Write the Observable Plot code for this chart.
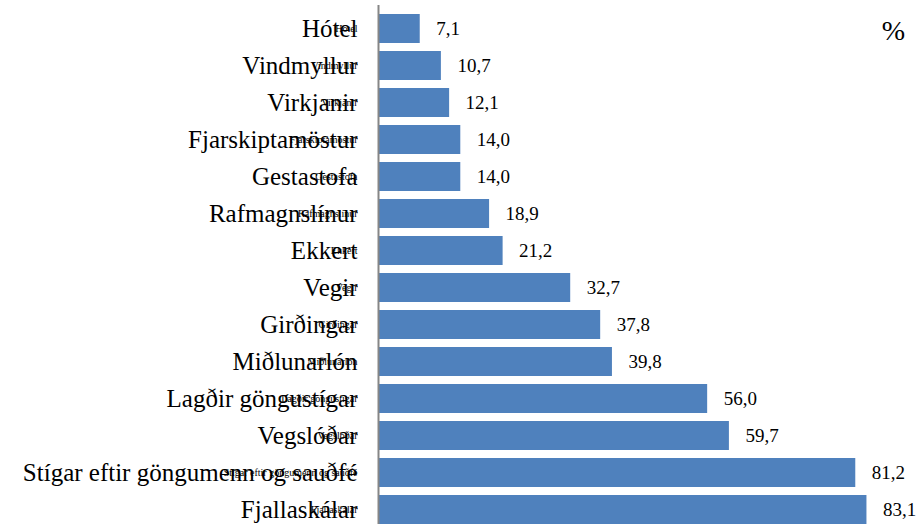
<!DOCTYPE html>
<html>
<head>
<meta charset="utf-8">
<script src="https://cdn.jsdelivr.net/npm/d3@7"></script>
<script src="https://cdn.jsdelivr.net/npm/@observablehq/plot@0.6"></script>
<style>
  html, body { margin: 0; padding: 0; background: #fff; overflow: hidden; }
  #unit { position: absolute; left: 0; top: 0; }
</style>
</head>
<body>
<svg id="unit" width="916" height="60"><text x="905" y="40" text-anchor="end" font-family="Liberation Serif" font-size="28" fill="#000">%</text></svg>
<div id="chart"></div>
<script>
const categories = ["Hótel", "Vindmyllur", "Virkjanir", "Fjarskiptamöstur", "Gestastofa", "Rafmagnslínur", "Ekkert", "Vegir", "Girðingar", "Miðlunarlón", "Lagðir göngustígar", "Vegslóðar", "Stígar eftir göngumenn og sauðfé", "Fjallaskálar"];
const values = [7.1, 10.7, 12.1, 14.0, 14.0, 18.9, 21.2, 32.7, 37.8, 39.8, 56.0, 59.7, 81.2, 83.1];

const data = categories.map((c, i) => ({category: c, value: values[i]}));
const fmt = v => v.toFixed(1).replace(".", ",");
const serif = "Liberation Serif";

const chart = Plot.plot({
  width: 916,
  height: 532,
  marginLeft: 378,
  marginRight: 9,
  marginTop: 5,
  marginBottom: 0,
  style: {fontFamily: serif},
  x: {domain: [0, 90], axis: null},
  y: {domain: categories, padding: 0.22, label: null, tickSize: 0, tickPadding: 21},
  marks: [
    Plot.barX(data, {x: "value", y: "category", fill: "#4F81BD"}),
    Plot.ruleX([0], {stroke: "#868686", strokeWidth: 2}),
    Plot.text(data, {x: "value", y: "category", text: d => fmt(d.value), dx: 16, textAnchor: "start", fontSize: 19, fontFamily: serif, fill: "#000"}),
    Plot.text(categories, {y: d => d, frameAnchor: "left", textAnchor: "end", dx: -21, fontSize: 25, fontFamily: serif, fill: "#000", text: d => d})
  ]
});
document.getElementById("chart").append(chart);
</script>
</body>
</html>
